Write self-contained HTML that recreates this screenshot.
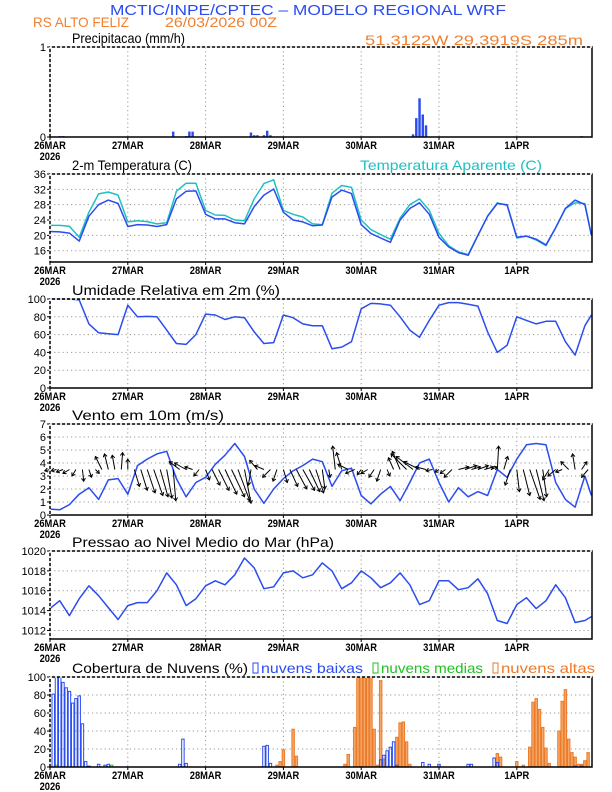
<!DOCTYPE html>
<html><head><meta charset="utf-8"><style>
html,body{margin:0;padding:0;background:#fff;}
svg{display:block;font-family:"Liberation Sans",sans-serif;}
</style></head><body>
<svg id="chart" width="612" height="792" viewBox="0 0 612 792" xmlns="http://www.w3.org/2000/svg">
<text x="110" y="15" textLength="396" lengthAdjust="spacingAndGlyphs" font-size="15" fill="#2a4cf0">MCTIC/INPE/CPTEC – MODELO REGIONAL WRF</text>
<text x="33" y="27" textLength="96" lengthAdjust="spacingAndGlyphs" font-size="14" fill="#f08030">RS ALTO FELIZ</text>
<text x="165" y="27" textLength="112" lengthAdjust="spacingAndGlyphs" font-size="14" fill="#f08030">26/03/2026 00Z</text>
<text x="365" y="45" textLength="218" lengthAdjust="spacingAndGlyphs" font-size="14" fill="#f08030">51.3122W 29.3919S 285m</text>
<g id="layer"></g>
</svg>
<script>
// ---------- data ----------
const dayLabels = ["26MAR","27MAR","28MAR","29MAR","30MAR","31MAR","1APR"];
const hours3 = [0,3,6,9,12,15,18,21,24,27,30,33,36,39,42,45,48,51,54,57,60,63,66,69,72,75,78,81,84,87,90,93,96,99,102,105,108,111,114,117,120,123,126,129,132,135,138,141,144,147,150,153,156,159,162,165,167];
const tempVals = [21.0,20.9,20.6,18.5,25,28.0,29.2,28.3,22.3,22.8,22.7,22.3,22.8,29.5,31.5,31.6,25.5,24.3,24.3,23.3,23.0,27.5,30.5,32.1,26,24.0,23.5,22.5,22.7,30,31.8,30.9,22.8,20.5,19.3,18.2,24,27,28.5,25.5,19.5,17,15.5,14.8,20,25,28.3,28,19.5,19.8,19,17.5,22,27,29.2,28,20];
const appTempVals = [22.6,22.6,22.4,19.5,26,30.8,31.3,30.5,23.5,23.8,23.6,23,23.3,31.5,33.6,33.6,26.5,25.3,25.2,24,23.8,29.5,33.5,34.5,26.5,25.5,24.8,23,22.8,31,33,32.5,24,21.5,20.2,19,24.5,28,29.5,26.5,20.5,17.3,15.7,15,20,25,28.5,27.8,19.3,19.8,18.8,17.3,22,27,28.5,28.3,20];
const rhVals = [100,100,100,99,72,62,61,60,93,80,80.5,80,65,50,49,60,83,82,77,80,79,63,50,51,82,79,72,70,70,44,46,52,89,95,94.5,93,80,65,57,76,93,96,96,94,92,63,40,48,80,76,72,75,75,52,37,70,82];
const windSpeedVals = [0.45,0.4,0.8,1.6,2.1,1.2,2.7,2.8,1.6,3.8,4.3,4.7,4.9,2.8,1.4,2.5,2.9,3.9,4.6,5.5,4.5,2.0,0.9,2.0,2.8,3.4,3.8,4.3,4.1,2.2,3.4,3.6,1.5,0.85,1.6,2.2,1.1,2.5,4.0,4.3,2.5,1.0,2.1,1.4,1.8,1.5,3.5,2.9,4.3,5.4,5.5,5.4,2.5,1.2,0.6,3.0,1.5];
const pressureVals = [1014.2,1015.0,1013.5,1015.2,1016.5,1015.5,1014.3,1013.1,1014.5,1014.8,1014.8,1016.0,1017.8,1016.6,1014.5,1015.2,1016.5,1017.0,1016.6,1017.6,1019.3,1018.3,1016.2,1016.4,1017.8,1018.0,1017.3,1017.6,1018.8,1018.0,1016.2,1016.8,1018.0,1017.3,1016.3,1016.8,1017.8,1016.6,1014.6,1015.0,1017.0,1017.0,1016.1,1016.3,1017.2,1015.7,1013.0,1012.7,1014.6,1015.3,1014.2,1015.0,1016.6,1015.3,1012.8,1013.0,1013.4];
// wind vectors every 2 h (u, v in m/s)
const windU = [-0.4,-0.4,-0.5,-0.5,-0.3,0.1,0.2,0.3,-0.5,-0.3,-0.2,0.1,0,0.4,0.5,0.6,0.7,0.6,0.4,0.2,-0.8,-0.9,-0.6,-0.4,0.3,0.6,0.8,0.9,1.0,0.9,0.5,-0.2,-0.6,-0.7,-0.6,-0.3,0.3,0.6,0.8,0.9,0.8,0.6,0.2,0.1,-0.2,-0.4,-0.8,-0.7,-0.3,-0.5,-0.4,-0.3,0.2,-0.4,-0.6,-1.2,-1.3,-1.2,-0.8,-0.5,-0.3,-0.4,-0.6,0.8,0.9,0.7,0.8,0.7,0.5,0.1,0.3,-0.4,0.2,0.5,0.8,0.6,0.3,-0.5,-0.6,-0.5,-0.6,-0.2,0.4,-0.5];
const windV = [-0.1,-0.1,-0.2,-0.3,-0.5,-0.9,-0.6,-0.3,1.0,1.2,1.1,1.3,0.8,-1.3,-1.6,-1.8,-2.0,-2.1,-2.2,-2.4,0.6,0.5,0.2,-0.5,-0.8,-1.2,-1.6,-1.9,-2.1,-2.4,-2.6,-1.2,0.7,0.3,-0.6,-0.9,-1.0,-1.3,-1.5,-1.6,-1.7,-1.8,-1.5,-0.6,1.8,1.3,0.4,-0.3,-0.4,-0.3,-0.6,-0.9,-0.5,0.9,1.4,1.2,1.0,0.6,0.2,-0.1,-0.2,-0.3,-0.6,0.2,0.3,0.2,0.3,0.2,0.2,1.8,1.0,-1.2,-1.7,-2.0,-2.3,-2.4,-2.1,-0.8,-0.5,-0.2,0.6,1.2,0.6,-0.6];
const precipHours = [3,4,38,42,43,44,62,63,64,66,67,68,112,113,114,115,116,164];
const precipVals = [0.01,0.01,0.06,0.01,0.06,0.06,0.05,0.02,0.02,0.02,0.07,0.02,0.03,0.21,0.43,0.25,0.13,0.01];
const lowCloudHours = [1,2,3,4,5,6,7,8,9,10,11,12,15,17,18,40,41,42,66,67,68,102,103,104,105,106,107,115,117,120,129,130,137,138,162,164];
const lowCloudVals = [81,100,100,94,88,84,71,76,79,48,6,1,3,2,3,3,31,4,23,24,4,8,13,18,22,28,2,5,3,3,3,3,10,5,1,1];
const midCloudHours = [2,19];
const midCloudVals = [2,2];
const highCloudHours = [70,71,72,75,76,91,92,94,95,96,97,98,99,100,101,102,103,107,108,109,110,111,138,139,144,146,148,149,150,151,152,153,154,157,158,159,160,161,162,163,164,165,166];
const highCloudVals = [2,6,19,42,12,3,14,44,100,100,100,100,100,42,2,96,9,33,49,50,28,3,15,11,6,2,22,72,76,64,44,21,4,40,73,86,31,16,11,3,3,7,16];

// ---------- layout ----------
const NS="http://www.w3.org/2000/svg";
const layer=document.getElementById('layer');
const XL=50, XR=592, HMAX=167.2;
function X(h){return XL+h*(XR-XL)/HMAX;}
function el(tag,attrs,parent){const e=document.createElementNS(NS,tag);for(const k in attrs)e.setAttribute(k,attrs[k]);(parent||layer).appendChild(e);return e;}

function panel(name,top,bot,vmin,vmax,ticks,tickLbl,title,titleLen,yfn){
  const g=el('g',{});
  
  
  const Y=v=>yfn?yfn(v):bot-(v-vmin)/(vmax-vmin)*(bot-top);
  for(let d=1;d<7;d++){const x=X(d*24);const l=el('line',{x1:x,x2:x,y1:top,y2:bot,stroke:'#999','stroke-dasharray':'1.2,3','stroke-width':1},g);
    }
  ticks.forEach((t,i)=>{const y=Y(t);
    if(y>top+1&&y<bot-1){const l=el('line',{x1:XL,x2:XR,y1:y,y2:y,stroke:'#999','stroke-dasharray':'1.2,3','stroke-width':1},g);
      }
    const tl=el('line',{x1:XL-3,x2:XL,y1:y,y2:y,stroke:'#000'},g);
    
    const tx=el('text',{x:XL-4,y:y+4,'text-anchor':'end','font-size':11},g);tx.textContent=tickLbl[i];
    
  });
  const t=el('text',{x:72,y:top-4,'font-size':14,textLength:titleLen,lengthAdjust:'spacingAndGlyphs'},g);t.textContent=title;
  
  dayLabels.forEach((d,i)=>{const x=X(i*24);
    const tl=el('line',{x1:x,x2:x,y1:bot,y2:bot+3,stroke:'#000'},g);
    
    const tx=el('text',{x:x,y:bot+12,'text-anchor':'middle','font-size':11,'font-weight':'bold',transform:`translate(${x},0) scale(0.85,1) translate(${-x},0)`},g);tx.textContent=d;
    });
  const yr=el('text',{x:X(0),y:bot+23,'text-anchor':'middle','font-size':11,'font-weight':'bold',transform:`translate(${X(0)},0) scale(0.85,1) translate(${-X(0)},0)`},g);yr.textContent='2026';
  
  return {g,Y,top,bot};
}
function frame(p){
  const r=el('rect',{x:XL,y:p.top,width:XR-XL,height:p.bot-p.top,fill:'none',stroke:'#000','stroke-width':1.5},p.g);
  
  const d=el('line',{x1:XL,x2:XR,y1:p.top,y2:p.top,stroke:'#fff','stroke-width':1.6,'stroke-dasharray':'2,3'},p.g);
  
  const d2=el('line',{x1:XL,x2:XL,y1:p.top,y2:p.bot,stroke:'#fff','stroke-width':1.6,'stroke-dasharray':'2,3'},p.g);
  
}
function line(p,hs,vs,color,name){
  const pts=hs.map((h,i)=>X(h).toFixed(1)+','+p.Y(vs[i]).toFixed(1)).join(' ');
  const l=el('polyline',{points:pts,fill:'none',stroke:color,'stroke-width':1.5,'stroke-linejoin':'round'},p.g);
  
}
function bars(p,hs,vs,fill,stroke,name){
  const w=(XR-XL)/HMAX;
  hs.forEach((h,i)=>{const y=p.Y(vs[i]);const b=el('rect',{x:X(h)-w/2+0.4,y:y,width:w-0.8,height:Math.max(0.6,p.bot-y),fill:fill,stroke:stroke,'stroke-width':1},p.g);
    });
}

const pp=panel('precipitation',47,137,0,1,[0,1],['0','1'],'Precipitacao (mm/h)',113);
bars(pp,precipHours,precipVals,'#2a4cf0','none','precip-bar'); frame(pp);
const pt=panel('temperature',174,262,0,1,[16,20,24,28,32,36],['16','20','24','28','32','36'],'2-m Temperatura (C)',120,v=>174+(36-v)*3.835);
line(pt,hours3,appTempVals,'#20c0c0','apparent-temp-line');
line(pt,hours3,tempVals,'#2a4cf0','temperature-line'); frame(pt);
const at=el('text',{x:360,y:170,'font-size':14,fill:'#20c0c0',textLength:182,lengthAdjust:'spacingAndGlyphs'});at.textContent='Temperatura Aparente (C)';

const pr=panel('humidity',299,388,0,100,[0,20,40,60,80,100],['0','20','40','60','80','100'],'Umidade Relativa em 2m (%)',208);
line(pr,hours3,rhVals,'#2a4cf0','humidity-line'); frame(pr);
const pw=panel('wind',424,515,0,7,[0,1,2,3,4,5,6,7],['0','1','2','3','4','5','6','7'],'Vento em 10m (m/s)',152);
line(pw,hours3,windSpeedVals,'#2a4cf0','wind-speed-line');
const sc=(pw.bot-pw.top)/7;
windU.forEach((u,i)=>{const h=i*2;const x0=X(h),y0=pw.Y(3.5);const x1=x0+u*sc,y1=y0-windV[i]*sc;
  const a=el('line',{x1:x0,y1:y0,x2:x1,y2:y1,stroke:'#000','stroke-width':1},pw.g);
  
  const L=Math.hypot(x1-x0,y1-y0)||1;const ux=(x1-x0)/L,uy=(y1-y0)/L;
  const hd=el('polyline',{points:`${x1-3*ux-2*uy},${y1-3*uy+2*ux} ${x1},${y1} ${x1-3*ux+2*uy},${y1-3*uy-2*ux}`,fill:'none',stroke:'#000','stroke-width':1},pw.g);
  });
frame(pw);
const ps=panel('pressure',551,639,1011.14,1020,[1012,1014,1016,1018,1020],['1012','1014','1016','1018','1020'],'Pressao ao Nivel Medio do Mar (hPa)',262);
line(ps,hours3,pressureVals,'#2a4cf0','pressure-line'); frame(ps);
const pc=panel('clouds',677,767,0,100,[0,20,40,60,80,100],['0','20','40','60','80','100'],'Cobertura de Nuvens (%)',176);
bars(pc,highCloudHours,highCloudVals,'#f5a868','#ec7a28','high-cloud-bar');
bars(pc,midCloudHours,midCloudVals,'none','#20c020','mid-cloud-bar');
bars(pc,lowCloudHours,lowCloudVals,'none','#2a4cf0','low-cloud-bar');
frame(pc);
[['nuvens baixas','#2a4cf0',253,'legend-low-clouds',102],['nuvens medias','#20c020',373,'legend-mid-clouds',102],['nuvens altas','#ec7a28',493,'legend-high-clouds',94]].forEach(l=>{
  const r=el('rect',{x:l[2],y:663,width:5,height:10,fill:'none',stroke:l[1]});
  
  const t=el('text',{x:l[2]+8,y:673,'font-size':14,fill:l[1],textLength:l[4],lengthAdjust:'spacingAndGlyphs'});t.textContent=l[0];
  });
</script>
</body></html>
